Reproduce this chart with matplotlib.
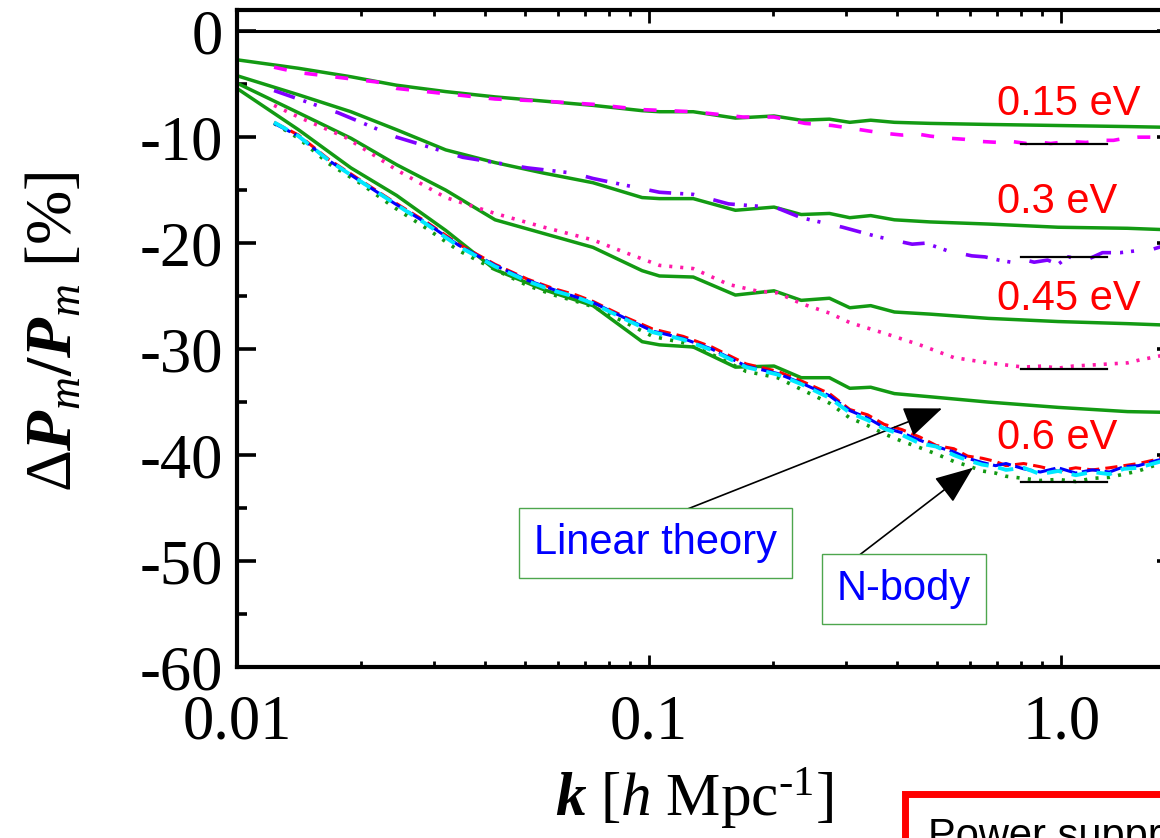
import numpy as np
import matplotlib
matplotlib.use('Agg')
import matplotlib.pyplot as plt
from matplotlib.ticker import LogLocator, NullFormatter, MultipleLocator

plt.rcParams['font.family'] = ['Liberation Serif', 'DejaVu Serif']
plt.rcParams['mathtext.fontset'] = 'custom'
plt.rcParams['mathtext.rm'] = 'Liberation Serif'
plt.rcParams['mathtext.it'] = 'Liberation Serif:italic'
plt.rcParams['mathtext.bf'] = 'Liberation Serif:bold'
plt.rcParams['mathtext.bfit'] = 'Liberation Serif:bold:italic'
plt.rcParams['axes.unicode_minus'] = False

# ---- linear theory (green solid), one k grid for all masses
k_lin = [0.0100, 0.0141, 0.0189, 0.0244, 0.0321, 0.0423, 0.0556, 0.0731, 0.0962, 0.106,
         0.128, 0.162, 0.201, 0.234, 0.274, 0.307, 0.345, 0.394, 0.481, 0.666, 0.983, 1.45, 2.0]
lin_015 = [-2.7, -3.5, -4.3, -5.1, -5.7, -6.2, -6.6, -7.0, -7.5, -7.6,
           -7.6, -8.2, -8.0, -8.4, -8.3, -8.6, -8.4, -8.6, -8.7, -8.8, -8.9, -9.0, -9.1]
lin_030 = [-4.2, -6.0, -7.6, -9.3, -11.2, -12.4, -13.4, -14.3, -15.7, -15.8,
           -15.8, -16.9, -16.6, -17.3, -17.2, -17.6, -17.4, -17.8, -18.0, -18.2, -18.5, -18.6, -18.8]
lin_045 = [-4.9, -7.7, -10.1, -12.6, -15.0, -17.8, -19.1, -20.4, -22.6, -23.1,
           -23.2, -24.9, -24.5, -25.4, -25.2, -26.1, -25.9, -26.5, -26.7, -27.1, -27.4, -27.6, -27.8]
lin_060 = [-5.4, -9.3, -12.9, -15.5, -18.8, -22.5, -24.4, -25.9, -29.3, -29.6,
           -29.8, -31.7, -31.6, -32.7, -32.7, -33.7, -33.6, -34.2, -34.5, -35.0, -35.5, -35.9, -36.0]

# ---- N-body, 0.15 eV (magenta dashed)
k_nb015 = [0.0123, 0.0141, 0.0189, 0.0219, 0.0244, 0.0321, 0.0423, 0.0556, 0.0731, 0.0962,
           0.128, 0.169, 0.201, 0.239, 0.278, 0.326, 0.366, 0.411, 0.448, 0.481, 0.534, 0.582,
           0.635, 0.706, 0.756, 0.825, 0.901, 0.943, 1.04, 1.15, 1.24, 1.34, 1.43, 1.54, 1.66,
           1.76, 1.86, 2.0]
nb015 = [-3.4, -3.9, -4.5, -4.8, -5.4, -5.9, -6.4, -6.6, -6.9, -7.4,
         -7.6, -8.1, -8.1, -8.7, -8.9, -9.3, -9.6, -9.8, -9.7, -9.9, -10.1, -10.2,
         -10.4, -10.5, -10.4, -10.6, -10.5, -10.6, -10.4, -10.5, -10.3, -10.3, -10.1, -10.0, -10.0,
         -9.8, -9.7, -9.6]

# ---- N-body, 0.3 eV (purple dash-dot-dot)
k_nb030 = [0.0123, 0.0141, 0.0176, 0.0244, 0.0353, 0.0507, 0.0656, 0.0731, 0.106, 0.128,
           0.156, 0.182, 0.205, 0.234, 0.295, 0.359, 0.435, 0.469, 0.528, 0.607, 0.654, 0.706,
           0.756, 0.802, 0.860, 0.927, 0.983, 1.04, 1.15, 1.26, 1.39, 1.54, 1.66, 1.76, 1.86, 2.0]
nb030 = [-5.6, -6.4, -7.7, -10.0, -11.9, -12.9, -13.4, -13.9, -15.2, -15.4,
         -16.3, -16.5, -16.7, -17.6, -18.5, -19.4, -20.1, -20.0, -20.7, -21.2, -21.3, -21.6,
         -21.8, -21.5, -21.8, -21.6, -22.0, -21.3, -21.6, -20.9, -20.9, -20.7, -20.6, -20.3, -20.2, -20.0]

# ---- N-body, 0.45 eV (pink dotted)
k_nb045 = [0.0123, 0.0141, 0.0183, 0.0219, 0.0244, 0.0321, 0.0423, 0.0556, 0.0731, 0.0877,
           0.106, 0.128, 0.156, 0.182, 0.205, 0.234, 0.274, 0.307, 0.372, 0.454, 0.549, 0.666,
           0.735, 0.811, 0.901, 0.983, 1.07, 1.19, 1.31, 1.45, 1.56, 1.66, 1.76, 1.86, 2.0]
nb045 = [-7.0, -8.1, -10.0, -11.9, -13.1, -15.7, -17.2, -18.5, -19.7, -20.9,
         -22.1, -22.4, -23.9, -24.5, -24.7, -25.7, -26.6, -27.5, -28.5, -29.6, -30.8, -31.3,
         -31.5, -31.7, -31.6, -31.8, -31.6, -31.5, -31.4, -31.3, -31.0, -30.8, -30.6, -30.4, -30.2]

# ---- N-body, 0.6 eV (four runs on one k grid)
k_nb060 = [0.0123, 0.0141, 0.0167, 0.0200, 0.0240, 0.0288, 0.0345, 0.0423, 0.0507, 0.0588,
           0.0666, 0.0731, 0.0877, 0.102, 0.121, 0.142, 0.172, 0.205, 0.234, 0.274,
           0.307, 0.339, 0.372, 0.411, 0.454, 0.498, 0.549, 0.593, 0.643, 0.693,
           0.735, 0.811, 0.890, 0.983, 1.085, 1.19, 1.31, 1.42, 1.54, 1.71, 1.86, 2.0]
nb060_red = [-8.6, -9.8, -12.1, -14.1, -16.1, -18.0, -20.1, -22.0, -23.4, -24.3,
             -24.9, -25.5, -27.0, -28.1, -28.8, -29.8, -31.4, -32.1, -33.0, -34.2,
             -35.7, -36.2, -37.1, -37.6, -38.3, -39.1, -39.4, -40.1, -40.3, -40.6,
             -41.0, -40.8, -41.1, -41.5, -41.2, -41.4, -41.2, -41.0, -40.8, -40.4, -40.0, -39.6]
nb060_blue = [-8.7, -9.9, -12.2, -14.2, -16.2, -18.1, -20.2, -22.1, -23.5, -24.4,
              -25.1, -25.6, -27.1, -28.3, -29.0, -30.0, -31.6, -32.3, -33.2, -34.4,
              -35.8, -36.5, -37.4, -37.9, -38.6, -39.2, -39.7, -40.3, -40.7, -41.0,
              -40.8, -41.3, -41.6, -41.2, -41.7, -41.4, -41.6, -41.1, -41.0, -40.5, -40.2, -39.8]
nb060_cyan = [-8.6, -9.9, -12.2, -14.2, -16.2, -18.2, -20.3, -22.2, -23.6, -24.5,
              -25.1, -25.7, -27.2, -28.4, -29.1, -30.1, -31.7, -32.4, -33.3, -34.6,
              -36.0, -36.7, -37.5, -38.1, -38.9, -39.2, -40.0, -40.5, -40.9, -41.1,
              -41.4, -41.2, -41.8, -41.5, -41.9, -41.6, -41.8, -41.3, -41.2, -40.7, -40.3, -40.1]
nb060_green = [-8.7, -10.1, -12.5, -14.4, -16.6, -18.6, -20.7, -22.5, -24.0, -24.9,
               -25.5, -26.0, -27.5, -28.8, -29.4, -30.5, -32.1, -32.7, -33.8, -35.1,
               -36.5, -37.2, -38.0, -38.7, -39.3, -39.9, -40.6, -41.0, -41.5, -41.7,
               -42.0, -42.2, -42.4, -42.3, -42.5, -42.2, -42.1, -41.8, -41.5, -40.9, -40.5, -40.2]

# short black marks at the max suppression, and the mass labels
mark_k = [0.80, 1.29]
mark_vals = [-10.6, -21.3, -31.9, -42.5]
mass_labels = ['0.15 eV', '0.3 eV', '0.45 eV', '0.6 eV']
mass_label_y = [-6.9, -16.1, -25.3, -38.4]

green = '#139a13'

fig = plt.figure(figsize=(11.6, 8.38), dpi=100)
ax = fig.add_axes([237/1160, 171/838, 939/1160, 657/838])

ax.axhline(0, color='k', lw=2.2, zorder=1)

for vals in [lin_015, lin_030, lin_045, lin_060]:
    ax.plot(k_lin, vals, color=green, lw=2.5, zorder=2)

ax.plot(k_nb015, nb015, color='#ff00ff', lw=2.6, ls=(0, (3.6, 5.0)), zorder=3)
ax.plot(k_nb030, nb030, color='#7f00ff', lw=2.6,
        ls=(0, (6.1, 2.5, 0.85, 2.2, 0.85, 5.5)), zorder=3)
ax.plot(k_nb045, nb045, color='#ff1aa8', lw=2.6, ls=(0, (0.85, 2.2)), zorder=3)

ax.plot(k_nb060, nb060_red, color='#ff0000', lw=2.2, ls=(0, (4, 2)), zorder=3)
ax.plot(k_nb060, nb060_blue, color='#0000ff', lw=2.2, ls=(0, (6, 1.5)), zorder=4)
ax.plot(k_nb060, nb060_cyan, color='#00e8ff', lw=2.8, ls=(0, (4, 2.5)), zorder=5)
ax.plot(k_nb060, nb060_green, color=green, lw=2.6, ls=(0, (0.85, 2.3)), zorder=3)

for v in mark_vals:
    ax.plot(mark_k, [v, v], color='k', lw=1.6, zorder=6)

for lab, y in zip(mass_labels, mass_label_y):
    ax.text(0.70, y, lab, color='red', fontsize=30, family='Liberation Sans',
            ha='left', va='center', zorder=7)

# annotation boxes with arrows
box = dict(boxstyle='square,pad=0.36', fc='white', ec='#4da64d', lw=1.0)
head = dict(arrowstyle='-|>,head_length=0.4,head_width=0.16',
            mutation_scale=60, lw=1.2, color='k', shrinkA=0, shrinkB=0)
ax.annotate('', xy=(0.514, -35.6), xytext=(0.1034, -46.3), arrowprops=head)
ax.annotate('', xy=(0.611, -41.2), xytext=(0.3125, -49.9), arrowprops=head)
ax.text(0.1034, -48.3, 'Linear theory', color='#0000ff', fontsize=30,
        family='Liberation Sans', ha='center', va='center', bbox=box, zorder=8)
ax.text(0.4155, -52.6, 'N-body', color='#0000ff', fontsize=30,
        family='Liberation Sans', ha='center', va='center', bbox=box, zorder=8)

# axes
ax.set_xscale('log')
ax.set_xlim(0.01, 1.9)
ax.set_ylim(-60, 2)
ax.set_xticks([0.01, 0.1, 1.0])
ax.set_xticklabels(['0.01', '0.1', '1.0'])
ax.xaxis.set_minor_locator(LogLocator(base=10, subs=np.arange(2, 10)))
ax.xaxis.set_minor_formatter(NullFormatter())
ax.set_yticks([0, -10, -20, -30, -40, -50, -60])
ax.set_yticklabels(['0', '-10', '-20', '-30', '-40', '-50', '-60'])
ax.yaxis.set_minor_locator(MultipleLocator(5))

ax.tick_params(which='both', direction='in', top=True, right=True, labelsize=45)
ax.tick_params(axis='y', which='major', length=14, width=2.6, pad=10)
ax.tick_params(axis='y', which='minor', length=7, width=2.6)
ax.tick_params(axis='x', which='major', length=9, width=2.0, pad=20)
ax.tick_params(axis='x', which='minor', length=4.5, width=2.0)
for sp in ax.spines.values():
    sp.set_linewidth(3)

ax.set_xlabel('$\\mathbfit{k}\\ [\\mathit{h}\\ \\mathrm{Mpc}^{\u2010\\mathrm{1}}]$', fontsize=44)
ax.xaxis.set_label_coords(0.487, -0.152)
ax.set_ylabel(r'$\Delta\mathbfit{P}_{m}\mathbf{/}\mathbfit{P}_{m}\ [\%]$', fontsize=47)
ax.yaxis.set_label_coords(-0.162, 0.51)

# partially visible box below the axes
fig.text(928/1160, -10/838, 'Power suppression', fontsize=30, family='Liberation Sans',
         color='k', ha='left', va='baseline',
         bbox=dict(boxstyle='square,pad=0.55', fc='white', ec='red', lw=5))

fig.savefig('out.png', dpi=100)
